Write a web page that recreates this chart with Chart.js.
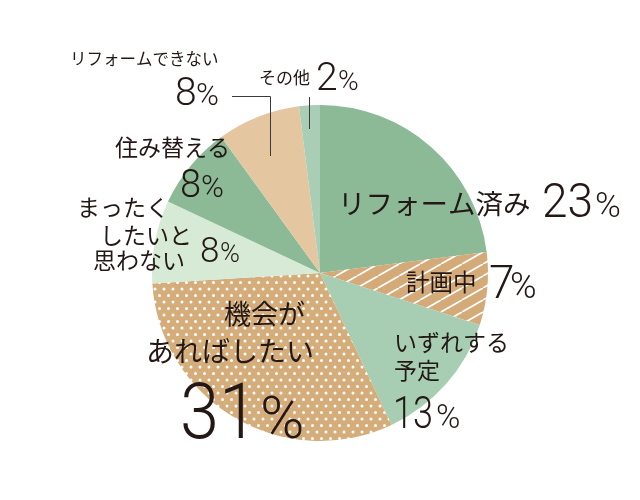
<!DOCTYPE html>
<html>
<head>
<meta charset="utf-8">
<script src="https://cdn.jsdelivr.net/npm/chart.js@4.4.0/dist/chart.umd.min.js"></script>
<style>
html,body{margin:0;padding:0;background:#fff;}
#c{display:block;}
</style>
</head>
<body>
<canvas id="c" width="640" height="500"></canvas>
<script>
// ---- data ----
const categories = ['リフォーム済み','計画中','いずれする予定','機会があればしたい','まったくしたいと思わない','住み替える','リフォームできない','その他'];
const values = [23, 7, 13, 31, 8, 8, 8, 2];
const labelLines = [['リフォーム済み'],['計画中'],['いずれする','予定'],['機会が','あればしたい'],['まったく','したいと','思わない'],['住み替える'],['リフォームできない'],['その他']];

// ---- style ----
const baseColors = ['#8cb996','#d4aa79','#a7ceb2','#d5ad7b','#d7ead6','#8cb996','#e4c7a1','#a9cdb5'];
const fillKind = ['solid','stripe','solid','dots','solid','solid','solid','solid'];
const TEXT = '#231815';
const JP = '"Noto Sans CJK JP","Noto Sans",sans-serif';
const NUM = 'Roboto,"Liberation Sans",sans-serif';

// label layout (pixels): text lines [left, centerY, size], number [left, baseline, size, maxW], percent [left, size]
const labelLayout = [
  {lines:[[338,203.5,27.5]], num:[542,217,48,51], pct:[595,35]},
  {lines:[[406,282.5,23.5]], num:[489,298,46,0], pct:[510,36]},
  {lines:[[394,342.5,23],[394,370,23]], num:[393,428,44,40], pct:[436,33]},
  {lines:[[224,313.5,27],[146,351.5,28]], num:[180,438,77,78], pct:[260,60]},
  {lines:[[77,207.5,23],[100,235,23],[93,260,23]], num:[200,262,35,0], pct:[220,27]},
  {lines:[[115,147.5,23]], num:[180,197,38,0], pct:[201,31]},
  {lines:[[70,58.5,16.5]], num:[175,105,39,0], pct:[196,31]},
  {lines:[[259,78,17]], num:[316,90,39,0], pct:[338,28]}
];
const leaders = [
  [[232,96.5],[270.5,96.5],[270.5,156]],
  [[309.5,97],[309.5,129]]
];

function makePattern(kind, color){
  const cv = document.createElement('canvas');
  const ctx = cv.getContext('2d');
  if(kind === 'stripe'){
    const w = 21, h = 12;
    cv.width = w; cv.height = h;
    ctx.fillStyle = color; ctx.fillRect(0,0,w,h);
    ctx.strokeStyle = '#ffffff'; ctx.lineWidth = 1.7;
    for(const dx of [-w,0,w]){
      ctx.beginPath(); ctx.moveTo(dx, h); ctx.lineTo(dx+w, 0); ctx.stroke();
    }
  } else {
    const w = 9, h = 13;
    cv.width = w; cv.height = h;
    ctx.fillStyle = color; ctx.fillRect(0,0,w,h);
    ctx.fillStyle = '#ffffff';
    const pts = [[2,3],[6.5,9.5],[6.5-9,9.5]];
    for(const p of pts){ ctx.beginPath(); ctx.arc(p[0],p[1],1.5,0,Math.PI*2); ctx.fill(); }
  }
  return document.getElementById('c').getContext('2d').createPattern(cv,'repeat');
}

const bg = baseColors.map((c,i)=> fillKind[i]==='solid' ? c : makePattern(fillKind[i], c));

const labelPlugin = {
  id:'labels',
  afterDraw(chart){
    const ctx = chart.ctx;
    ctx.save();
    ctx.strokeStyle = '#3a3a3a'; ctx.lineWidth = 1;
    for(const L of leaders){
      ctx.beginPath(); ctx.moveTo(L[0][0],L[0][1]);
      for(let k=1;k<L.length;k++) ctx.lineTo(L[k][0],L[k][1]);
      ctx.stroke();
    }
    ctx.fillStyle = TEXT;
    const vals = chart.data.datasets[0].data;
    labelLayout.forEach((lay,i)=>{
      ctx.textAlign = 'left';
      ctx.textBaseline = 'middle';
      labelLines[i].forEach((t,j)=>{
        const [x,y,s] = lay.lines[j];
        ctx.font = `400 ${s}px ${JP}`;
        ctx.fillText(t, x, y);
      });
      ctx.textBaseline = 'alphabetic';
      const [nx,ny,ns,mw] = lay.num;
      ctx.font = `300 ${ns}px ${NUM}`;
      if(mw) ctx.fillText(String(vals[i]), nx, ny, mw); else ctx.fillText(String(vals[i]), nx, ny);
      const [px,ps] = lay.pct;
      ctx.font = `300 ${ps}px ${NUM}`;
      ctx.fillText('%', px, ny);
    });
    ctx.restore();
  }
};

new Chart(document.getElementById('c'), {
  type:'pie',
  data:{
    labels: categories,
    datasets:[{ data: values, backgroundColor: bg, borderWidth: 0 }]
  },
  options:{
    responsive:false,
    animation:false,
    layout:{ padding:{ top:105, bottom:59, left:152, right:152 } },
    plugins:{ legend:{display:false}, tooltip:{enabled:false} }
  },
  plugins:[labelPlugin]
});
</script>
</body>
</html>
